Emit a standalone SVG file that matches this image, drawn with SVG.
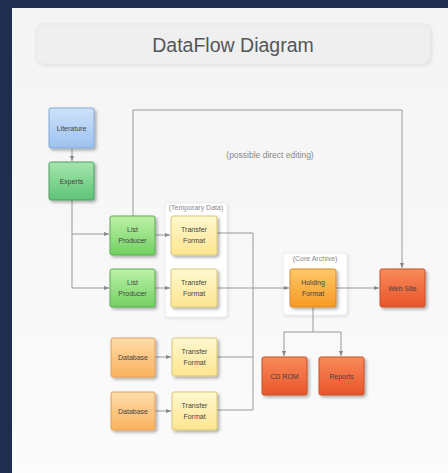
<svg xmlns="http://www.w3.org/2000/svg" width="448" height="473" viewBox="0 0 448 473">
<defs>
<linearGradient id="bg" x1="0" y1="0" x2="0" y2="1"><stop offset="0" stop-color="#f4f4f4"/><stop offset="1" stop-color="#fbfbfb"/></linearGradient>
<linearGradient id="gBlue" x1="0" y1="0" x2="0" y2="1"><stop offset="0" stop-color="#cfe2fb"/><stop offset="1" stop-color="#9cc2f0"/></linearGradient>
<linearGradient id="gGreen" x1="0" y1="0" x2="0" y2="1"><stop offset="0" stop-color="#a5e6ad"/><stop offset="1" stop-color="#5ec476"/></linearGradient>
<linearGradient id="gLime" x1="0" y1="0" x2="0" y2="1"><stop offset="0" stop-color="#bdf2a8"/><stop offset="1" stop-color="#72d062"/></linearGradient>
<linearGradient id="gYellow" x1="0" y1="0" x2="0" y2="1"><stop offset="0" stop-color="#fff8cf"/><stop offset="1" stop-color="#fde590"/></linearGradient>
<linearGradient id="gPeach" x1="0" y1="0" x2="0" y2="1"><stop offset="0" stop-color="#ffdca8"/><stop offset="1" stop-color="#f9b25e"/></linearGradient>
<linearGradient id="gOrange" x1="0" y1="0" x2="0" y2="1"><stop offset="0" stop-color="#ffc868"/><stop offset="1" stop-color="#f59a24"/></linearGradient>
<linearGradient id="gRed" x1="0" y1="0" x2="0" y2="1"><stop offset="0" stop-color="#f98a5a"/><stop offset="1" stop-color="#e8552a"/></linearGradient>
<filter id="sh" x="-20%" y="-20%" width="150%" height="150%"><feDropShadow dx="2" dy="2" stdDeviation="1.5" flood-color="#000" flood-opacity="0.3"/></filter>
<filter id="shs" x="-20%" y="-20%" width="150%" height="150%"><feDropShadow dx="1" dy="1" stdDeviation="1.5" flood-color="#000" flood-opacity="0.12"/></filter>
<marker id="arr" viewBox="0 0 6 6" refX="6" refY="3" markerWidth="5" markerHeight="5" orient="auto"><path d="M0,0.5 L6,3 L0,5.5 Z" fill="#888"/></marker>
<style>
.node{stroke-width:1}
.t{font-family:"Liberation Sans",Arial,sans-serif;font-size:7px;fill:#444;text-anchor:middle}
.lbl{font-family:"Liberation Sans",Arial,sans-serif;font-size:7px;fill:#888;text-anchor:middle}
.ln{fill:none;stroke:#999;stroke-width:1}
.grp{fill:#ffffff;stroke:#ececec;stroke-width:1}
</style>
</defs>
<rect x="0" y="0" width="448" height="473" fill="#1f2d50"/>
<rect x="12" y="8" width="436" height="465" fill="url(#bg)"/>
<g id="title">
<rect x="36" y="24" width="394" height="40" rx="7" fill="#efefef" stroke="#e8e8e8" filter="url(#shs)"/>
<text x="233" y="52" font-family="Liberation Sans,Arial,sans-serif" font-size="19.5" fill="#555" text-anchor="middle">DataFlow Diagram</text>
</g>
<g id="group-temporary">
<rect class="grp" x="165" y="203" width="62" height="114" rx="3" filter="url(#shs)"/>
<text class="lbl" x="196" y="210">(Temporary Data)</text>
</g>
<g id="group-core">
<rect class="grp" x="283" y="253" width="64" height="62" rx="3" filter="url(#shs)"/>
<text class="lbl" x="315" y="261">(Core Archive)</text>
</g>
<g id="connectors">
<path class="ln" d="M72,148 V161" marker-end="url(#arr)"/>
<path class="ln" d="M72,200 V288 H109" marker-end="url(#arr)"/>
<path class="ln" d="M72,234 H109" marker-end="url(#arr)"/>
<path class="ln" d="M155,235 H170" marker-end="url(#arr)"/>
<path class="ln" d="M155,288 H170" marker-end="url(#arr)"/>
<path class="ln" d="M155,357 H171" marker-end="url(#arr)"/>
<path class="ln" d="M155,411 H171" marker-end="url(#arr)"/>
<path class="ln" d="M133,216 V110 H402 V268" marker-end="url(#arr)"/>
<path class="ln" d="M217,233 H253 V410 H217"/>
<path class="ln" d="M217,357 H253"/>
<path class="ln" d="M217,288 H289" marker-end="url(#arr)"/>
<path class="ln" d="M336,288 H379" marker-end="url(#arr)"/>
<path class="ln" d="M313,307 V332"/>
<path class="ln" d="M284,332 H341"/>
<path class="ln" d="M284,332 V356" marker-end="url(#arr)"/>
<path class="ln" d="M341,332 V356" marker-end="url(#arr)"/>
<text class="lbl" x="270" y="158" style="font-size:8.5px">(possible direct editing)</text>
</g>
<g id="literature"><rect class="node" x="49" y="108" width="45" height="40" rx="2" fill="url(#gBlue)" stroke="#86a9d6" filter="url(#sh)"/><text class="t" x="71.5" y="130.5">Literature</text></g>
<g id="experts"><rect class="node" x="49" y="162" width="45" height="38" rx="2" fill="url(#gGreen)" stroke="#4f9d62" filter="url(#sh)"/><text class="t" x="71.5" y="183.5">Experts</text></g>
<g id="list-producer-1"><rect class="node" x="110" y="216" width="45" height="39" rx="2" fill="url(#gLime)" stroke="#5eab52" filter="url(#sh)"/><text class="t" x="132.5" y="232">List</text><text class="t" x="132.5" y="243">Producer</text></g>
<g id="list-producer-2"><rect class="node" x="110" y="269" width="45" height="38" rx="2" fill="url(#gLime)" stroke="#5eab52" filter="url(#sh)"/><text class="t" x="132.5" y="285">List</text><text class="t" x="132.5" y="296">Producer</text></g>
<g id="transfer-1"><rect class="node" x="171" y="216" width="46" height="39" rx="2" fill="url(#gYellow)" stroke="#d9c57a" filter="url(#sh)"/><text class="t" x="194" y="232">Transfer</text><text class="t" x="194" y="243">Format</text></g>
<g id="transfer-2"><rect class="node" x="171" y="269" width="46" height="38" rx="2" fill="url(#gYellow)" stroke="#d9c57a" filter="url(#sh)"/><text class="t" x="194" y="285">Transfer</text><text class="t" x="194" y="296">Format</text></g>
<g id="database-1"><rect class="node" x="111" y="338" width="44" height="39" rx="2" fill="url(#gPeach)" stroke="#e0a060" filter="url(#sh)"/><text class="t" x="133" y="359.5">Database</text></g>
<g id="transfer-3"><rect class="node" x="172" y="338" width="45" height="38" rx="2" fill="url(#gYellow)" stroke="#d9c57a" filter="url(#sh)"/><text class="t" x="194.5" y="354">Transfer</text><text class="t" x="194.5" y="365">Format</text></g>
<g id="database-2"><rect class="node" x="111" y="392" width="44" height="38" rx="2" fill="url(#gPeach)" stroke="#e0a060" filter="url(#sh)"/><text class="t" x="133" y="413.5">Database</text></g>
<g id="transfer-4"><rect class="node" x="172" y="392" width="45" height="38" rx="2" fill="url(#gYellow)" stroke="#d9c57a" filter="url(#sh)"/><text class="t" x="194.5" y="408">Transfer</text><text class="t" x="194.5" y="419">Format</text></g>
<g id="holding-format"><rect class="node" x="290" y="269" width="46" height="38" rx="2" fill="url(#gOrange)" stroke="#d88a2a" filter="url(#sh)"/><text class="t" x="313" y="285">Holding</text><text class="t" x="313" y="296">Format</text></g>
<g id="web-site"><rect class="node" x="380" y="269" width="45" height="38" rx="2" fill="url(#gRed)" stroke="#c8502a" filter="url(#sh)"/><text class="t" x="402.5" y="290.5">Web Site</text></g>
<g id="cd-rom"><rect class="node" x="262" y="357" width="45" height="38" rx="2" fill="url(#gRed)" stroke="#c8502a" filter="url(#sh)"/><text class="t" x="284.5" y="378.5">CD ROM</text></g>
<g id="reports"><rect class="node" x="319" y="357" width="45" height="38" rx="2" fill="url(#gRed)" stroke="#c8502a" filter="url(#sh)"/><text class="t" x="341.5" y="378.5">Reports</text></g>
</svg>
